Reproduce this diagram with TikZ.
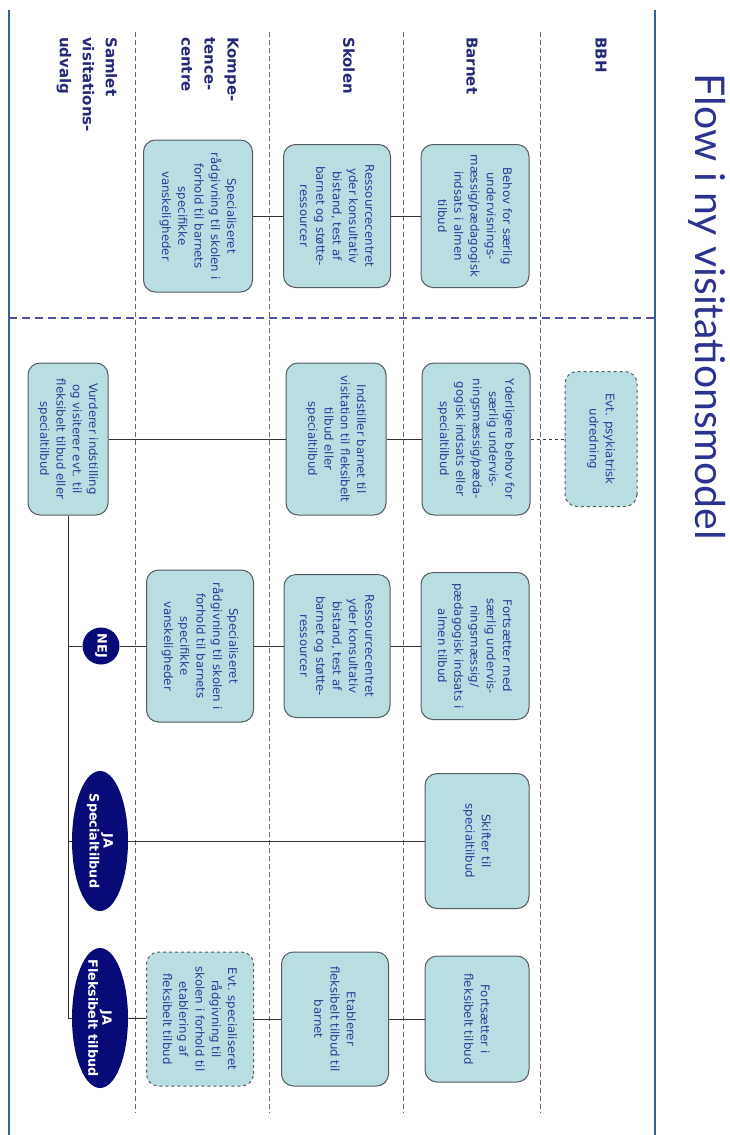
\documentclass[tikz,border=0pt]{standalone}
\usepackage{fontspec}
\setmainfont{DejaVu Sans}
\newfontfamily\titlefont{Lato}
\usetikzlibrary{shapes.geometric}
\definecolor{boxfill}{RGB}{184,222,226}
\definecolor{boxline}{RGB}{85,90,95}
\definecolor{txtblue}{RGB}{40,62,150}
\definecolor{headblue}{RGB}{38,40,120}
\definecolor{titleblue}{RGB}{45,50,145}
\definecolor{frameblue}{RGB}{45,100,160}
\definecolor{navyfill}{RGB}{8,10,120}
\definecolor{lanegray}{RGB}{100,100,130}
\definecolor{sepblue}{RGB}{80,80,160}
\begin{document}
\begin{tikzpicture}[x=1pt, y=-1pt,
  box/.style={rectangle, rounded corners=12pt, draw=boxline, line width=1pt, fill=boxfill, text=txtblue, rotate=-90, align=center, inner sep=2pt, font=\fontsize{11.8}{16.3}\selectfont},
  dashbox/.style={box, dashed},
  answer/.style={ellipse, fill=navyfill, text=white, rotate=-90, align=center, inner xsep=-12pt, inner ysep=-6pt, font=\bfseries\fontsize{12.8}{14}\selectfont},
  head/.style={rotate=-90, anchor=west, align=left, inner sep=0pt, text=headblue, font=\bfseries\fontsize{15}{23}\selectfont},
  lane/.style={lanegray, line width=0.8pt, dash pattern=on 5pt off 3pt},
  link/.style={line width=0.9pt, black!80}]
\useasboundingbox (0,0) rectangle (730,1135);
% frame, lanes and title
\draw[frameblue, line width=2.5pt] (9,10) -- (9,1135);
\draw[frameblue, line width=2.5pt] (655,10) -- (655,1135);
\foreach \x in {135,269,403,540}
  \draw[lane] (\x,32) -- (\x,1113);
\draw[sepblue, line width=2pt, dash pattern=on 8pt off 5pt] (9,318) -- (655,318);
\node[rotate=-90, anchor=base, inner sep=0pt, text=titleblue, font=\titlefont\fontsize{41}{41}\selectfont] (title) at (695,307) {Flow i ny visitationsmodel};
\node[head] (hbbh) at (601,37) {BBH};
\node[head] (hbarn) at (472,37) {Barnet};
\node[head] (hskole) at (349,37) {Skolen};
\node[head] (hkomp) at (210,37) {Kompe-\\tence-\\centre};
\node[head] (hsamlet) at (87,37) {Samlet\\visitations-\\udvalg};
% first row
\node[box, minimum width=143, minimum height=108] (b1) at (475,216) {Behov for særlig\\undervisnings-\\mæssig/pædagogisk\\indsats i almen\\tilbud};
\node[box, minimum width=143, minimum height=107] (s1) at (337,216) {Ressourcecentret\\yder konsultativ\\bistand, test af\\barnet og støtte-\\ressourcer};
\node[box, minimum width=152, minimum height=109] (k1) at (198,216) {Specialiseret\\rådgivning til skolen i\\forhold til barnets\\specifikke\\vanskeligheder};
\draw[link](b1) -- (s1);
\draw[link](s1) -- (k1);
% second row
\node[dashbox, minimum width=135, minimum height=72] (bbh) at (601,439) {Evt. psykiatrisk\\udredning};
\node[box, minimum width=152, minimum height=108] (b2) at (476,439) {Yderligere behov for\\særlig undervis-\\ningsmæssig/pæda-\\gogisk indsats eller\\specialtilbud};
\node[box, minimum width=152, minimum height=100] (s2) at (336,439) {Indstiller barnet til\\visitation til fleksibelt\\tilbud eller\\specialtilbud};
\node[box, minimum width=152, minimum height=80] (sv) at (68,439) {Vurderer indstilling\\og visiterer evt. til\\fleksibelt tilbud eller\\specialtilbud};
\draw[link, dashed](b2) -- (bbh);
\draw[link](s2) -- (b2);
\draw[link](sv) -- (s2);
% answers
\node[answer, minimum width=37, minimum height=37] (nej) at (101,646) {NEJ};
\node[answer, minimum width=140, minimum height=56] (ja1) at (100,841) {JA\\Specialtilbud};
\node[answer, minimum width=140, minimum height=56] (ja2) at (100,1018) {JA\\Fleksibelt tilbud};
\draw[link](sv.east) |- (ja2);
\draw[link](sv.east |- nej) -- (nej);
\draw[link](sv.east |- ja1) -- (ja1);
% NEJ row
\node[box, minimum width=152, minimum height=107] (k3) at (200,646) {Specialiseret\\rådgivning til skolen i\\forhold til barnets\\specifikke\\vanskeligheder};
\node[box, minimum width=143, minimum height=106] (s3) at (337,646) {Ressourcecentret\\yder konsultativ\\bistand, test af\\barnet og støtte-\\ressourcer};
\node[box, minimum width=147, minimum height=108] (b3) at (475,646) {Fortsætter med\\særlig undervis-\\ningsmæssig/\\pædagogisk indsats i\\almen tilbud};
\draw[link](nej) -- (k3);
\draw[link](k3) -- (s3);
\draw[link](s3) -- (b3);
% JA rows
\node[box, minimum width=135, minimum height=104] (b4) at (477,841) {Skifter til\\specialtilbud};
\draw[link](ja1) -- (b4);
\node[dashbox, minimum width=134, minimum height=107] (k5) at (200,1019) {Evt. specialiseret\\rådgivning til\\skolen i forhold til\\etablering af\\fleksibelt tilbud};
\node[box, minimum width=134, minimum height=107] (s5) at (335,1019) {Etablerer\\fleksibelt tilbud til\\barnet};
\node[box, minimum width=126, minimum height=104] (b5) at (477,1019) {Fortsætter i\\fleksibelt tilbud};
\draw[link](ja2) -- (k5);
\draw[link](k5) -- (s5);
\draw[link](s5) -- (b5);
\end{tikzpicture}
\end{document}
